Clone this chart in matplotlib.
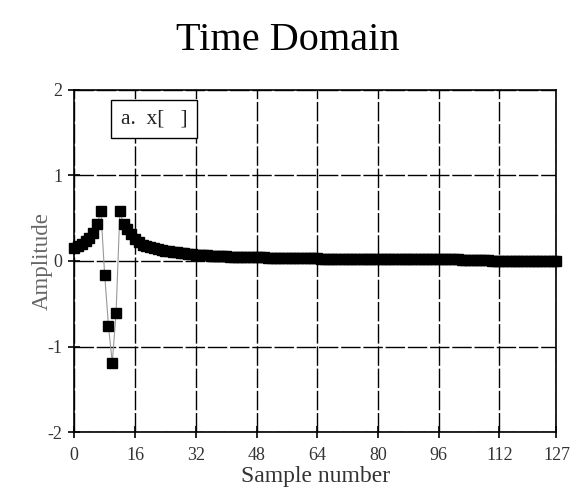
import numpy as np
import matplotlib
matplotlib.use("Agg")
import matplotlib.pyplot as plt

# Sample values, n = 0..127
left_part = [0.15, 0.17, 0.20, 0.23, 0.27, 0.33, 0.43, 0.58]
dip = [-0.16, -0.76, -1.19, -0.61]
right_part = [0.58, 0.43, 0.37, 0.31, 0.26, 0.22, 0.19, 0.17, 0.16, 0.15,
              0.14, 0.13, 0.12, 0.115, 0.11, 0.10, 0.095, 0.09, 0.085, 0.08,
              0.075, 0.072, 0.069, 0.066, 0.063, 0.060, 0.057, 0.055, 0.053, 0.051,
              0.050, 0.048, 0.047, 0.046, 0.045, 0.044, 0.043, 0.042, 0.041, 0.040,
              0.039, 0.038, 0.037, 0.036, 0.035, 0.034, 0.033, 0.032, 0.031, 0.030,
              0.030, 0.029, 0.029, 0.028, 0.028, 0.027, 0.027, 0.026, 0.026, 0.025,
              0.025, 0.025, 0.024, 0.024, 0.024, 0.023, 0.023, 0.023, 0.022, 0.022,
              0.022, 0.022, 0.021, 0.021, 0.021, 0.021, 0.020, 0.020, 0.020, 0.020,
              0.020, 0.020, 0.020, 0.020, 0.020, 0.019, 0.019, 0.019, 0.018, 0.018,
              0.017, 0.016, 0.015, 0.014, 0.012, 0.010, 0.008, 0.006, 0.005, 0.004,
              0.003, 0.002, 0.001, 0.001, 0.000, 0.000, 0.000, 0.000, 0.000, 0.000,
              0.000, 0.000, 0.000, 0.000, 0.000, 0.000]
values = left_part + dip + right_part
samples = list(range(len(values)))

x_ticks = [0, 16, 32, 48, 64, 80, 96, 112, 127]
y_ticks = [-2, -1, 0, 1, 2]

plt.rcParams["font.family"] = ["Liberation Serif", "DejaVu Serif"]
plt.rcParams["axes.unicode_minus"] = False

fig = plt.figure(figsize=(5.76, 4.91), dpi=100)
ax = fig.add_axes([0.129, 0.12, 0.837, 0.697])

ax.plot(samples, values, color="#999999", linewidth=0.8, zorder=3,
        marker="s", markersize=6.5, markerfacecolor="black",
        markeredgecolor="black", clip_on=False)

ax.set_xlim(0, 127)
ax.set_ylim(-2, 2)
ax.set_xticks(x_ticks)
ax.set_yticks(y_ticks)
ax.grid(True, color="black", linewidth=1.0, linestyle=(0, (14, 2)))
ax.set_axisbelow(True)

for s in ax.spines.values():
    s.set_linewidth(1.2)
ax.tick_params(direction="inout", length=9, width=1.2, labelsize=13,
               labelcolor="#333333")
ax.tick_params(axis="x", pad=6)
ax.tick_params(axis="y", pad=4)

ax.set_xlabel("Sample number", fontsize=17, color="#333333", labelpad=2)
ax.set_ylabel("Amplitude", fontsize=16.5, color="#666666", labelpad=-4)
fig.suptitle("Time Domain", fontsize=29, y=0.955)

ax.text(0.097, 0.915, "a.  x[   ]", transform=ax.transAxes, fontsize=15.5,
        color="#222222", va="center", ha="left", zorder=5,
        bbox=dict(boxstyle="square,pad=0.45", facecolor="white",
                  edgecolor="black", linewidth=1.0))

fig.savefig("out.png", dpi=100)
